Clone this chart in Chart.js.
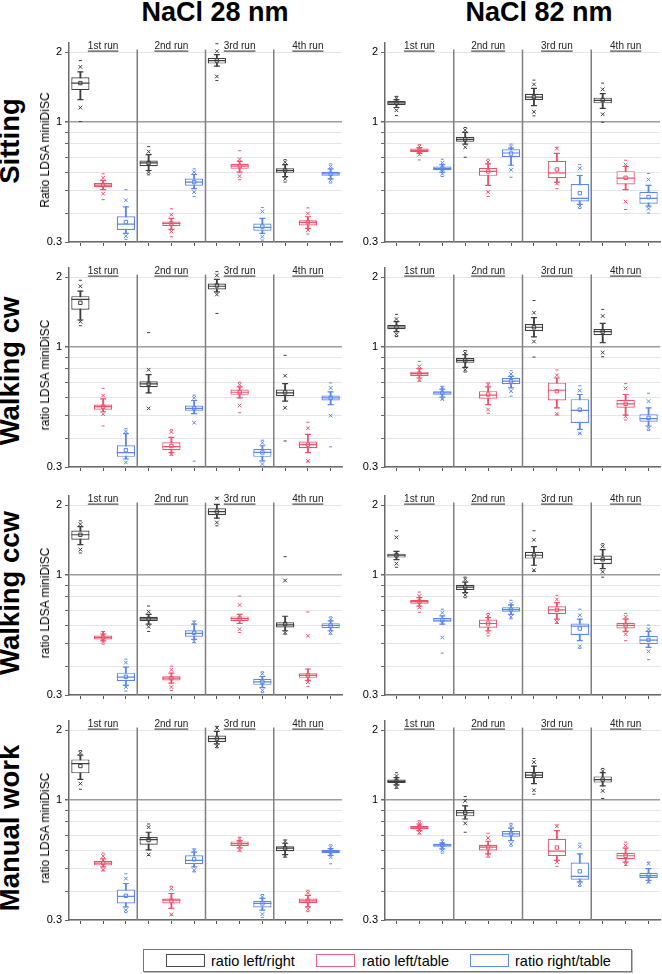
<!DOCTYPE html>
<html><head><meta charset="utf-8">
<script src="https://cdn.jsdelivr.net/npm/chart.js@4.4.0/dist/chart.umd.min.js"></script>
<style>
html,body{margin:0;padding:0;background:#fff;}
body{width:662px;height:974px;position:relative;overflow:hidden;font-family:"Liberation Sans",Arial,sans-serif;color:#000;}
canvas{position:absolute;}
.coltitle{position:absolute;font-weight:bold;font-size:27px;line-height:27px;white-space:nowrap;transform:translateX(-50%);}
.rowlabel{position:absolute;font-weight:bold;font-size:27.5px;line-height:28px;white-space:nowrap;transform:translate(-50%,-50%) rotate(-90deg);}
.ytitle{position:absolute;font-size:12px;line-height:14px;white-space:nowrap;transform:translate(-50%,-50%) rotate(-90deg);}
#legend{position:absolute;left:143px;top:949px;width:487px;height:21px;border:1px solid #777;box-shadow:1px 1px 0 #bbb;}
.sw{position:absolute;top:954px;width:37px;height:11px;border:1.5px solid;}
.lt{position:absolute;top:952px;font-size:14.5px;line-height:18px;white-space:nowrap;}
</style>
</head><body>
<div class="coltitle" style="left:215px;top:-1px;">NaCl 28 nm</div>
<div class="coltitle" style="left:539px;top:-1px;">NaCl 82 nm</div>
<div id="legend"></div>
<div class="sw" style="left:166px;border-color:#4a4a4a;"></div><div class="lt" style="left:211px;">ratio left/right</div>
<div class="sw" style="left:316px;border-color:#f0607a;"></div><div class="lt" style="left:362px;">ratio left/table</div>
<div class="sw" style="left:470px;border-color:#5f8cf0;"></div><div class="lt" style="left:515px;">ratio right/table</div>
<script>
// ---- data ----
// each row (one run): [lowDash, lowX, lowWhisker, q1, median, q3, highWhisker, highX, highDash, mean]
const runLabels = ['1st run', '2nd run', '3rd run', '4th run'];
const seriesNames = ['ratio left/right', 'ratio left/table', 'ratio right/table'];
const rowNames = ['Sitting', 'Walking cw', 'Walking ccw', 'Manual work'];
const yTitles = ['Ratio LDSA miniDiSC', 'ratio LDSA miniDiSC', 'ratio LDSA miniDiSC', 'ratio LDSA miniDiSC'];
const yTickValues = [0.3, 0.4, 0.5, 0.6, 0.7, 0.8, 0.9, 1, 2];
const yLabelValues = [0.3, 1, 2];

const sit28_lr = [[1.0,1.149,1.244,1.369,1.468,1.557,1.643,1.726,1.838,1.468],[0.587,0.603,0.613,0.640,0.661,0.677,0.718,0.740,0.778,0.661],[1.507,1.568,1.738,1.784,1.838,1.888,1.951,2.017,2.176,1.838],[0.546,0.564,0.577,0.599,0.613,0.627,0.650,0.666,0.683,0.613]];
const sit28_lt = [[0.458,0.486,0.506,0.519,0.530,0.541,0.555,0.570,0.593,0.530],[0.316,0.333,0.340,0.352,0.361,0.368,0.380,0.394,0.418,0.361],[0.559,0.579,0.603,0.623,0.640,0.655,0.672,0.686,0.747,0.640],[0.325,0.338,0.344,0.354,0.365,0.373,0.386,0.399,0.422,0.366]];
const sit28_rt = [[0.308,0.318,0.327,0.338,0.359,0.388,0.426,0.455,0.506,0.366],[0.473,0.494,0.511,0.526,0.546,0.566,0.589,0.603,0.623,0.546],[0.306,0.316,0.327,0.336,0.347,0.361,0.380,0.407,0.423,0.350],[0.541,0.555,0.564,0.581,0.593,0.605,0.623,0.638,0.655,0.593]];

const sit82_lr = [[1.061,1.119,1.150,1.180,1.204,1.228,1.245,1.262,1.286,1.204],[0.700,0.773,0.798,0.817,0.836,0.859,0.897,0.918,0.942,0.836],[1.058,1.101,1.172,1.240,1.277,1.320,1.392,1.449,1.512,1.277],[0.993,1.075,1.141,1.199,1.236,1.269,1.320,1.379,1.468,1.240]];
const sit82_lt = [[0.681,0.718,0.728,0.735,0.747,0.763,0.770,0.778,0.793,0.747],[0.473,0.494,0.528,0.581,0.607,0.629,0.655,0.668,0.686,0.607],[0.511,0.537,0.546,0.568,0.599,0.675,0.728,0.763,0.773,0.619],[0.415,0.449,0.506,0.533,0.568,0.609,0.638,0.650,0.679,0.570]];
const sit82_rt = [[0.577,0.593,0.603,0.615,0.625,0.638,0.650,0.663,0.686,0.625],[0.573,0.617,0.646,0.702,0.730,0.758,0.767,0.778,0.798,0.726],[0.419,0.429,0.437,0.450,0.464,0.535,0.583,0.627,0.650,0.489],[0.401,0.418,0.429,0.440,0.464,0.496,0.528,0.560,0.595,0.470]];

const cw28_lr = [[1.231,1.282,1.303,1.444,1.600,1.654,1.738,1.826,1.938,1.548],[0.300,0.539,0.629,0.666,0.688,0.707,0.755,0.793,1.149,0.688],[1.392,1.681,1.726,1.767,1.826,1.875,1.957,2.036,2.113,1.840],[0.389,0.542,0.579,0.609,0.629,0.650,0.690,0.747,0.915,0.632]];
const cw28_lt = [[0.452,0.508,0.521,0.532,0.548,0.560,0.593,0.613,0.658,0.548],[0.338,0.341,0.346,0.355,0.368,0.384,0.403,0.426,0.435,0.370],[0.516,0.555,0.599,0.617,0.633,0.650,0.668,0.683,0.700,0.633],[0.316,0.319,0.346,0.362,0.375,0.387,0.416,0.442,0.469,0.375]];
const cw28_rt = [[0.300,0.314,0.325,0.332,0.346,0.373,0.419,0.428,0.440,0.355],[0.318,0.467,0.511,0.526,0.539,0.555,0.583,0.599,0.615,0.539],[0.300,0.309,0.319,0.332,0.347,0.359,0.371,0.382,0.392,0.347],[0.367,0.501,0.560,0.583,0.599,0.613,0.636,0.661,0.695,0.599]];

const cw82_lr = [[1.104,1.130,1.160,1.188,1.215,1.240,1.282,1.316,1.379,1.215],[0.775,0.793,0.812,0.850,0.870,0.891,0.921,0.936,0.961,0.870],[0.900,1.051,1.101,1.168,1.212,1.252,1.334,1.402,1.584,1.212],[0.903,0.942,1.040,1.119,1.160,1.191,1.260,1.356,1.449,1.160]];
const cw82_lt = [[0.707,0.716,0.730,0.745,0.763,0.778,0.801,0.820,0.862,0.763],[0.513,0.533,0.560,0.593,0.615,0.640,0.668,0.683,0.695,0.619],[0.504,0.511,0.542,0.583,0.646,0.697,0.730,0.750,0.791,0.640],[0.480,0.496,0.504,0.542,0.564,0.587,0.619,0.658,0.690,0.564]];
const cw82_rt = [[0.591,0.591,0.603,0.617,0.629,0.640,0.653,0.661,0.672,0.629],[0.609,0.640,0.661,0.686,0.707,0.730,0.742,0.760,0.785,0.707],[0.418,0.420,0.437,0.466,0.528,0.591,0.619,0.644,0.675,0.532],[0.433,0.442,0.452,0.472,0.486,0.508,0.542,0.579,0.627,0.490]];

const ccw28_lr = [[1.240,1.282,1.347,1.415,1.488,1.553,1.615,1.654,1.709,1.488],[0.566,0.593,0.609,0.629,0.642,0.655,0.672,0.690,0.730,0.642],[1.626,1.681,1.755,1.813,1.875,1.938,2.017,2.140,2.154,1.875],[0.551,0.560,0.570,0.589,0.605,0.621,0.659,0.942,1.196,0.610]];
const ccw28_lt = [[0.499,0.511,0.515,0.523,0.533,0.544,0.552,0.558,0.566,0.533],[0.314,0.325,0.338,0.347,0.355,0.362,0.373,0.386,0.400,0.355],[0.560,0.579,0.613,0.627,0.644,0.658,0.672,0.738,0.806,0.644],[0.327,0.341,0.347,0.356,0.365,0.373,0.389,0.542,0.688,0.365]];
const ccw28_rt = [[0.312,0.325,0.330,0.345,0.359,0.375,0.396,0.415,0.429,0.360],[0.506,0.513,0.523,0.537,0.555,0.573,0.609,0.619,0.629,0.558],[0.307,0.314,0.323,0.332,0.342,0.353,0.361,0.371,0.378,0.342],[0.551,0.560,0.570,0.585,0.601,0.615,0.629,0.640,0.655,0.601]];

const ccw82_lr = [[1.075,1.115,1.160,1.184,1.212,1.232,1.260,1.449,1.548,1.212],[0.793,0.815,0.834,0.856,0.882,0.903,0.927,0.952,0.974,0.882],[1.034,1.044,1.097,1.172,1.212,1.256,1.320,1.415,1.548,1.210],[0.974,1.027,1.061,1.112,1.164,1.208,1.282,1.325,1.360,1.164]];
const ccw82_lt = [[0.686,0.718,0.730,0.747,0.763,0.775,0.793,0.806,0.839,0.763],[0.542,0.560,0.570,0.587,0.613,0.638,0.650,0.661,0.677,0.613],[0.613,0.623,0.640,0.672,0.702,0.728,0.755,0.780,0.812,0.702],[0.516,0.551,0.566,0.583,0.601,0.617,0.640,0.655,0.677,0.601]];
const ccw82_rt = [[0.456,0.533,0.609,0.623,0.633,0.648,0.661,0.683,0.707,0.633],[0.642,0.655,0.672,0.690,0.704,0.721,0.738,0.747,0.773,0.704],[0.478,0.488,0.516,0.546,0.597,0.613,0.640,0.666,0.707,0.583],[0.427,0.464,0.483,0.499,0.519,0.542,0.566,0.579,0.603,0.520]];

const man28_lr = [[1.108,1.172,1.224,1.299,1.430,1.493,1.557,1.594,1.630,1.397],[0.572,0.577,0.605,0.636,0.670,0.688,0.721,0.758,0.783,0.667],[1.676,1.704,1.744,1.778,1.838,1.894,1.977,2.043,2.077,1.838],[0.562,0.570,0.577,0.597,0.615,0.627,0.646,0.657,0.668,0.615]];
const man28_lt = [[0.490,0.496,0.510,0.518,0.530,0.542,0.553,0.568,0.585,0.530],[0.315,0.317,0.337,0.354,0.366,0.372,0.391,0.410,0.420,0.364],[0.597,0.605,0.617,0.629,0.644,0.658,0.663,0.675,0.686,0.644],[0.326,0.334,0.342,0.355,0.363,0.372,0.384,0.394,0.404,0.363]];
const man28_rt = [[0.323,0.331,0.342,0.354,0.380,0.407,0.432,0.454,0.476,0.382],[0.485,0.493,0.510,0.524,0.544,0.573,0.591,0.601,0.611,0.550],[0.308,0.318,0.331,0.340,0.354,0.363,0.372,0.378,0.387,0.354],[0.526,0.562,0.572,0.585,0.595,0.605,0.613,0.621,0.636,0.595]];

const man82_lr = [[1.119,1.134,1.157,1.180,1.199,1.220,1.244,1.265,1.307,1.199],[0.721,0.788,0.823,0.845,0.876,0.900,0.939,0.987,1.030,0.876],[1.054,1.097,1.172,1.236,1.277,1.320,1.397,1.453,1.507,1.277],[1.010,1.090,1.145,1.184,1.220,1.260,1.307,1.329,1.364,1.220]];
const man82_lt = [[0.709,0.718,0.733,0.745,0.758,0.767,0.783,0.788,0.809,0.758],[0.562,0.572,0.581,0.601,0.621,0.636,0.659,0.681,0.714,0.621],[0.513,0.535,0.544,0.568,0.597,0.675,0.733,0.765,0.775,0.619],[0.518,0.523,0.535,0.551,0.570,0.587,0.615,0.631,0.653,0.570]];
const man82_rt = [[0.585,0.601,0.611,0.623,0.633,0.642,0.648,0.657,0.668,0.633],[0.627,0.642,0.663,0.690,0.709,0.730,0.752,0.770,0.788,0.709],[0.420,0.429,0.439,0.449,0.464,0.533,0.581,0.625,0.646,0.488],[0.436,0.439,0.446,0.457,0.467,0.481,0.501,0.526,0.535,0.470]];

// ---- rendering ----
const FONT = '"Liberation Sans", Arial, sans-serif';
Chart.defaults.font.family = FONT;
const seriesColors = ['#3d3d3d', '#ef506a', '#5a86ee'];
const catLabels = [];
runLabels.forEach(r => seriesNames.forEach(s => catLabels.push(r + ' – ' + s)));

const panels = [
  [[sit28_lr, sit28_lt, sit28_rt], [sit82_lr, sit82_lt, sit82_rt]],
  [[cw28_lr, cw28_lt, cw28_rt], [cw82_lr, cw82_lt, cw82_rt]],
  [[ccw28_lr, ccw28_lt, ccw28_rt], [ccw82_lr, ccw82_lt, ccw82_rt]],
  [[man28_lr, man28_lt, man28_rt], [man82_lr, man82_lt, man82_rt]]
];
const rowTops = [41, 266, 494, 719];

function buildDatasets(arrs) {
  const ds = [];
  arrs.forEach((arr, s) => {
    const col = seriesColors[s];
    const box = new Array(catLabels.length).fill(null);
    const whisk = new Array(catLabels.length).fill(null);
    const caps = [], med = [], mean = [], xs = [], dashes = [];
    arr.forEach((r, run) => {
      const k = run * 3 + s, lab = catLabels[k];
      box[k] = [r[3], r[5]];
      whisk[k] = [r[2], r[6]];
      caps.push({x: lab, y: r[2]}, {x: lab, y: r[6]});
      med.push({x: lab, y: r[4]});
      mean.push({x: lab, y: r[9]});
      xs.push({x: lab, y: r[1]}, {x: lab, y: r[7]});
      dashes.push({x: lab, y: r[0]}, {x: lab, y: r[8]});
    });
    ds.push({type: 'bar', label: seriesNames[s], data: box, backgroundColor: '#ffffff', borderColor: col,
      borderWidth: 1.2, borderSkipped: false, grouped: false, barPercentage: 0.8, categoryPercentage: 1, order: 2});
    ds.push({type: 'bar', data: whisk, backgroundColor: col, borderWidth: 0, grouped: false, barThickness: 1.2, order: 3});
    const pt = (data, style, r, w) => ({type: 'line', data, showLine: false, pointStyle: style, pointRadius: r,
      pointHoverRadius: r, pointBorderColor: col, pointBackgroundColor: 'rgba(0,0,0,0)', pointBorderWidth: w || 1, order: 1});
    ds.push(pt(caps, 'line', 3, 1.2));
    ds.push(pt(med, 'line', 9, 1.2));
    ds.push(pt(mean, 'rect', 2.4, 1));
    ds.push(pt(xs, 'crossRot', 2.6, 1));
    ds.push(pt(dashes, 'line', 1.5, 1));
  });
  return ds;
}

const panelDecor = {
  id: 'panelDecor',
  beforeDatasetsDraw(chart) {
    const {ctx, chartArea: a, scales: {x}} = chart;
    ctx.save();
    ctx.strokeStyle = '#7f7f7f'; ctx.lineWidth = 1.5;
    for (let g = 1; g < runLabels.length; g++) {
      const px = (x.getPixelForValue(g * 3 - 1) + x.getPixelForValue(g * 3)) / 2;
      ctx.beginPath(); ctx.moveTo(px, a.top + 7); ctx.lineTo(px, a.bottom); ctx.stroke();
    }
    ctx.restore();
  },
  afterDatasetsDraw(chart) {
    const {ctx, chartArea: a, scales: {x}} = chart;
    ctx.save();
    ctx.font = '10px ' + FONT;
    ctx.fillStyle = '#222'; ctx.strokeStyle = '#222'; ctx.lineWidth = 1;
    ctx.textAlign = 'center'; ctx.textBaseline = 'middle';
    runLabels.forEach((t, g) => {
      const px = x.getPixelForValue(g * 3 + 1);
      ctx.fillText(t, px, a.top + 3.5);
      const w = ctx.measureText(t).width;
      ctx.beginPath(); ctx.moveTo(px - w / 2, a.top + 8.5); ctx.lineTo(px + w / 2, a.top + 8.5); ctx.stroke();
    });
    ctx.restore();
  }
};

function makePanel(row, colIdx) {
  const isLeft = colIdx === 0;
  const cv = document.createElement('canvas');
  const left = isLeft ? 30 : 346;
  cv.width = 316; cv.height = 219;
  cv.style.left = left + 'px'; cv.style.top = (rowTops[row] - 8) + 'px';
  cv.style.width = '316px'; cv.style.height = '219px';
  document.body.appendChild(cv);
  new Chart(cv, {
    data: {labels: catLabels, datasets: buildDatasets(panels[row][colIdx])},
    options: {
      responsive: false, animation: false, devicePixelRatio: 1, events: [],
      layout: {autoPadding: false, padding: {left: 0, right: isLeft ? 4 : 2, top: 8, bottom: 2}},
      plugins: {legend: {display: false}, tooltip: {enabled: false}},
      scales: {
        x: {type: 'category', offset: true,
          afterFit: sc => { sc.height = 8; },
          grid: {display: true, drawOnChartArea: false, drawTicks: true, tickLength: 4, offset: false, color: '#555', lineWidth: 1},
          ticks: {display: false},
          border: {display: true, color: '#6a6a6a', width: 1.5}},
        y: {type: 'logarithmic', min: 0.3, max: 2.2,
          afterBuildTicks: sc => { sc.ticks = yTickValues.map(v => ({value: v})); },
          afterFit: sc => { sc.width = 39; },
          ticks: {autoSkip: false, color: '#000', padding: 3, font: {size: 11, family: FONT},
            callback: v => yLabelValues.includes(v) ? String(v) : ''},
          grid: {drawTicks: true, tickLength: 4, tickColor: '#666',
            color: c => (c.tick && c.tick.value === 1) ? '#9c9c9c' : '#e3e6e8',
            lineWidth: c => (c.tick && c.tick.value === 1) ? 1.5 : 1},
          border: {display: true, color: '#6a6a6a', width: 1.5}}
      }
    },
    plugins: [panelDecor]
  });
}

const rowLabelCenters = [141, 371, 593, 828];
const yTitleCenters = [150, 375, 603, 828];
for (let r = 0; r < 4; r++) {
  makePanel(r, 0); makePanel(r, 1);
  const rl = document.createElement('div');
  rl.className = 'rowlabel'; rl.textContent = rowNames[r];
  rl.style.left = '10px'; rl.style.top = rowLabelCenters[r] + 'px';
  document.body.appendChild(rl);
  const yt = document.createElement('div');
  yt.className = 'ytitle'; yt.textContent = yTitles[r];
  yt.style.left = '45px'; yt.style.top = yTitleCenters[r] + 'px';
  document.body.appendChild(yt);
}
</script>
</body></html>
